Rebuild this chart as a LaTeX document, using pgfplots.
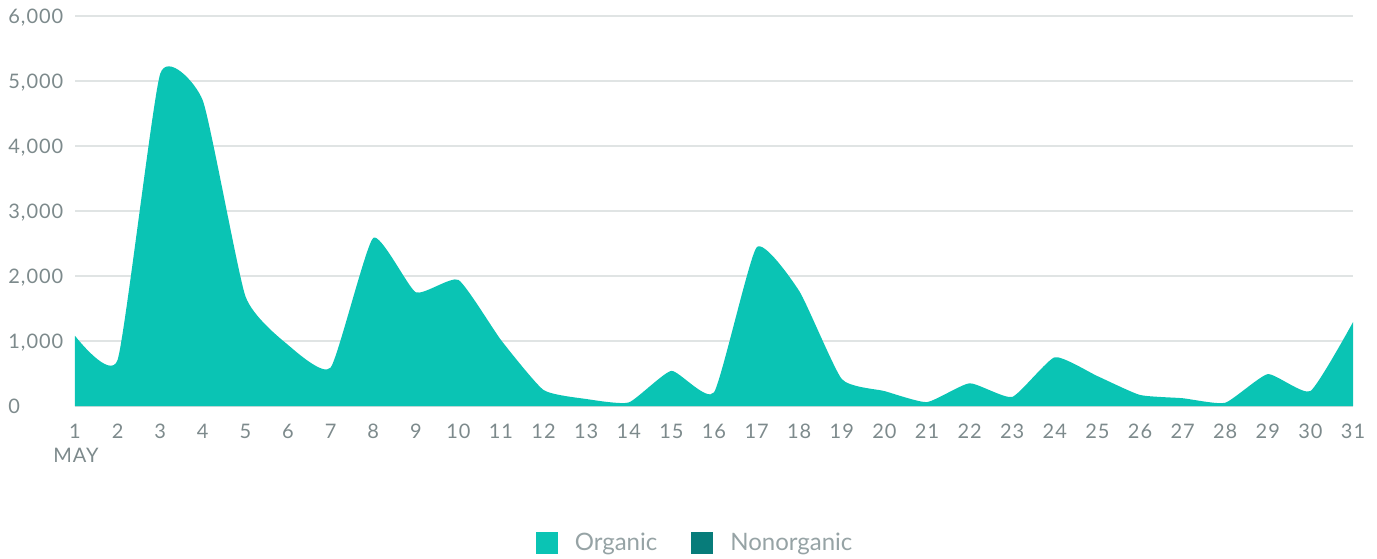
\documentclass[border=0pt]{standalone}
\usepackage{fontspec}
\setmainfont{Lato}
\newfontfamily\tickfont[LetterSpace=5]{Lato}
\newfontfamily\legfont{Lato}
\usepackage{pgfplots}
\pgfplotsset{compat=1.18}
\definecolor{org}{RGB}{10,196,180}
\definecolor{nonorg}{RGB}{7,124,122}
\definecolor{gridc}{RGB}{224,228,228}
\definecolor{basec}{RGB}{214,220,220}
\definecolor{tickc}{RGB}{125,138,140}
\definecolor{legc}{RGB}{150,163,165}
\begin{document}
\begin{tikzpicture}
\begin{axis}[
  at={(0pt,0pt)}, anchor=south west,
  scale only axis, width=639pt, height=195pt,
  xmin=1, xmax=31, ymin=0, ymax=6000,
  xtick={1,...,31}, ytick={0,1000,...,6000},
  ymajorgrids, major grid style={gridc, line width=0.8pt},
  tick style={draw=none},
  axis x line*=bottom, axis y line*=left,
  y axis line style={draw=none},
  x axis line style={-, draw=basec, line width=1pt},
  /pgf/number format/assume math mode=true,
  /pgf/number format/1000 sep={,},
  ticklabel style={font=\tickfont\fontsize{10}{11}\selectfont, text=tickc},
  yticklabel style={anchor=base west, inner sep=0pt, xshift=-33.5pt, yshift=-3.6pt},
  xticklabel style={anchor=base, inner sep=0pt, yshift=-16pt},
  legend columns=2,
  legend style={at={(axis description cs:0.486,-0.351)}, anchor=center, draw=none,
    font=\legfont\fontsize{12}{14}\selectfont, text=legc,
    /tikz/every odd column/.style={column sep=6.5pt},
    /tikz/every even column/.style={column sep=15pt}},
  legend image code/.code={\fill[#1] (0pt,-5.5pt) rectangle (11pt,5.5pt);},
]
\addplot[fill=org, draw=none, smooth, tension=0.3] coordinates {
(1,1080) (2,710) (3,5110) (4,4700) (5,1690) (6,940) (7,590) (8,2585) (9,1750) (10,1940)
(11,1015) (12,246) (13,108) (14,55) (15,540) (16,210) (17,2440) (18,1770) (19,415) (20,230)
(21,60) (22,350) (23,140) (24,750) (25,460) (26,170) (27,120) (28,50) (29,490) (30,230) (31,1290)
} \closedcycle;
\addlegendentry{Organic}
\addlegendimage{fill=nonorg, draw=none}
\addlegendentry{Nonorganic}
\end{axis}
\node[font=\tickfont\fontsize{10}{11}\selectfont, text=tickc, anchor=base, inner sep=0pt] at (0.5pt,-28.1pt) {MAY};
\pgfresetboundingbox
\path[use as bounding box] (-37.5pt,-76pt) rectangle (651pt,203pt);
\end{tikzpicture}
\end{document}
